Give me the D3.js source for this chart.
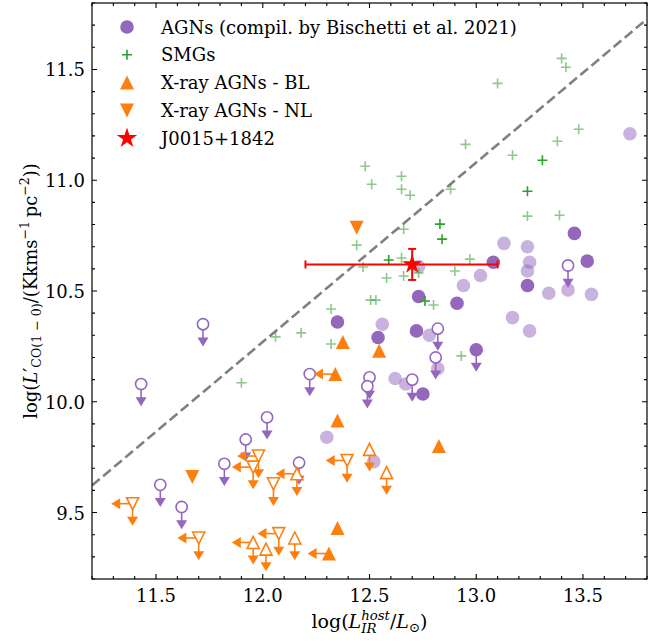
<!DOCTYPE html>
<html>
<head>
<meta charset="utf-8">
<script src="https://cdn.jsdelivr.net/npm/d3@7"></script>
<style>
  body { margin: 0; background: #fff; }
  text { font-family: "DejaVu Serif", serif; fill: #000; }
</style>
</head>
<body>
<div id="chart"></div>
<script>
// data: [log L_IR, log L'CO]
const agnDetected = [[12.35,10.36],[13.46,10.76],[13.52,10.635],[13.08,10.63],[13.24,10.525],
  [12.73,10.475],[12.91,10.445],[12.54,10.29],[12.72,10.32],[12.75,10.035]]
const agnFaint = [[13.72,11.21],[13.13,10.715],[13.24,10.70],[13.25,10.63],[12.73,10.61],[13.24,10.59],
  [13.02,10.57],[12.94,10.525],[13.34,10.49],[13.43,10.505],[13.54,10.485],[13.17,10.38],[12.56,10.35],
  [13.25,10.32],[12.78,10.30],[12.82,10.15],[12.62,10.105],[12.67,10.08],[12.30,9.84],[12.52,9.73]]
const agnUpper = [[11.72,10.35],[13.43,10.615],[12.82,10.33],[12.81,10.20],[12.50,10.11],[12.49,10.07],
  [12.70,10.10],[11.43,10.08],[12.22,10.125],[12.02,9.93],[11.92,9.83],[11.82,9.72],[12.17,9.725],
  [11.52,9.625],[11.62,9.525]]
const agnUpperFilled = [[13.0,10.235]]

const smgFaint = [[13.40,11.55],[13.42,11.51],[13.10,11.437],[13.48,11.23],[13.38,11.176],[12.95,11.162],
  [13.17,11.113],[12.48,11.063],[12.65,11.018],[12.51,10.982],[12.65,10.959],[12.69,10.932],[12.88,10.959],
  [13.24,10.838],[13.39,10.842],[12.66,10.779],[12.44,10.707],[12.47,10.608],[12.97,10.644],[12.65,10.649],
  [12.58,10.559],[12.66,10.568],[12.73,10.581],[12.90,10.59],[12.32,10.419],[12.505,10.459],[12.53,10.459],
  [12.80,10.437],[12.18,10.311],[12.06,10.293],[12.32,10.261],[12.93,10.207],[11.90,10.086]]
const smgBright = [[13.31,11.09],[13.24,10.95],[12.83,10.802],[12.84,10.734],[12.59,10.64],[12.76,10.455]]

const blDetected = [[12.375,10.27],[12.545,10.23],[12.35,9.915],[12.825,9.80],[12.35,9.43]]
const blLeftLimit = [[12.34,10.125],[12.31,9.315]]
const blUpper = [[12.50,9.785],[12.58,9.68],[12.15,9.385],[12.015,9.335]]
const blUpperLeft = [[12.16,9.675],[11.955,9.365]]

const nlDetected = [[12.44,10.785],[11.67,9.66]]
const nlUpperLeft = [[11.98,9.755],[11.955,9.705],[12.395,9.735],[11.39,9.54],[11.70,9.385],[12.075,9.405]]
const nlUpper = [[12.05,9.63]]

const target = [12.70, 10.62]
const targetXerr = [0.50, 0.40]
const targetYerr = 0.07

const limitLength = 0.1
const lineSlope = 0.81
const lineIntercept = 0.55

const xTicks = [11.5, 12.0, 12.5, 13.0, 13.5]
const yTicks = [9.5, 10.0, 10.5, 11.0, 11.5]

const legendLabels = ['AGNs (compil. by Bischetti et al. 2021)', 'SMGs', 'X-ray AGNs - BL',
  'X-ray AGNs - NL', 'J0015+1842']

//dimensions
const width = 666, height = 642
const margin = {top: 3, right: 19, bottom: 63, left: 92}
const purple = '#9467bd', green = '#2ca02c', orange = '#ff7f0e'

const svg = d3.select('#chart').append('svg')
  .attr('width', width).attr('height', height)

const x = d3.scaleLinear().domain([11.2, 13.8]).range([margin.left, width - margin.right])
const y = d3.scaleLinear().domain([9.2, 11.8]).range([height - margin.bottom, margin.top])

const plot = svg.append('g')
svg.append('clipPath').attr('id', 'clip').append('rect')
  .attr('x', margin.left).attr('y', margin.top)
  .attr('width', width - margin.left - margin.right)
  .attr('height', height - margin.top - margin.bottom)
plot.attr('clip-path', 'url(#clip)')

//symbols
const tri = (s, up) => up ? `M0,${-s}L${-s},${s}L${s},${s}Z` : `M0,${s}L${-s},${-s}L${s},${-s}Z`
const plus = s => `M${-s},0H${s}M0,${-s}V${s}`

function downArrow(g, d, color) {
  const px = x(d[0]), py = y(d[1]), ty = y(d[1] - limitLength)
  g.append('line').attr('x1', px).attr('x2', px).attr('y1', py).attr('y2', ty - 6)
    .attr('stroke', color).attr('stroke-width', 1.6)
  g.append('path').attr('d', `M${px},${ty}L${px - 5.5},${ty - 9}L${px + 5.5},${ty - 9}Z`).attr('fill', color)
}
function leftArrow(g, d, color) {
  const px = x(d[0]), py = y(d[1]), tx = x(d[0] - limitLength)
  g.append('line').attr('x1', px).attr('x2', tx + 6).attr('y1', py).attr('y2', py)
    .attr('stroke', color).attr('stroke-width', 1.6)
  g.append('path').attr('d', `M${tx},${py}L${tx + 9},${py - 5.5}L${tx + 9},${py + 5.5}Z`).attr('fill', color)
}

//dashed relation
plot.append('line')
  .attr('x1', x(11.2)).attr('y1', y(lineSlope * 11.2 + lineIntercept))
  .attr('x2', x(13.8)).attr('y2', y(lineSlope * 13.8 + lineIntercept))
  .attr('stroke', '#808080').attr('stroke-width', 2.6).attr('stroke-dasharray', '10,4.5')

//agn compilation
plot.append('g').selectAll('circle').data(agnFaint).join('circle')
  .attr('cx', d => x(d[0])).attr('cy', d => y(d[1])).attr('r', 6.8)
  .attr('fill', purple).attr('opacity', 0.5)
plot.append('g').selectAll('circle').data(agnDetected).join('circle')
  .attr('cx', d => x(d[0])).attr('cy', d => y(d[1])).attr('r', 6.8).attr('fill', purple)

const lim = plot.append('g')
agnUpper.forEach(d => downArrow(lim, d, purple))
agnUpperFilled.forEach(d => downArrow(lim, d, purple))
lim.selectAll('circle.open').data(agnUpper).join('circle')
  .attr('cx', d => x(d[0])).attr('cy', d => y(d[1])).attr('r', 5.6)
  .attr('fill', '#fff').attr('stroke', purple).attr('stroke-width', 1.6)
lim.selectAll('circle.full').data(agnUpperFilled).join('circle')
  .attr('cx', d => x(d[0])).attr('cy', d => y(d[1])).attr('r', 6.8).attr('fill', purple)

//smgs
plot.append('g').selectAll('path').data(smgFaint).join('path')
  .attr('transform', d => `translate(${x(d[0])},${y(d[1])})`).attr('d', plus(5))
  .attr('stroke', green).attr('stroke-width', 1.6).attr('opacity', 0.55)
plot.append('g').selectAll('path').data(smgBright).join('path')
  .attr('transform', d => `translate(${x(d[0])},${y(d[1])})`).attr('d', plus(5))
  .attr('stroke', green).attr('stroke-width', 1.6)

//x-ray agns
const xr = plot.append('g')
blLeftLimit.forEach(d => leftArrow(xr, d, orange))
blUpper.forEach(d => downArrow(xr, d, orange))
blUpperLeft.forEach(d => { downArrow(xr, d, orange); leftArrow(xr, d, orange) })
nlUpperLeft.forEach(d => { downArrow(xr, d, orange); leftArrow(xr, d, orange) })
nlUpper.forEach(d => downArrow(xr, d, orange))

const drawTri = (data, up, open) => xr.append('g').selectAll('path').data(data).join('path')
  .attr('transform', d => `translate(${x(d[0])},${y(d[1])})`)
  .attr('d', tri(open ? 6 : 7, up))
  .attr('fill', open ? '#fff' : orange)
  .attr('stroke', open ? orange : 'none').attr('stroke-width', 1.6)
drawTri(blDetected, true, false)
drawTri(blLeftLimit, true, false)
drawTri(blUpper, true, true)
drawTri(blUpperLeft, true, true)
drawTri(nlDetected, false, false)
drawTri(nlUpperLeft, false, true)
drawTri(nlUpper, false, true)

//target
const tg = plot.append('g')
tg.append('line').attr('x1', x(target[0] - targetXerr[0])).attr('x2', x(target[0] + targetXerr[1]))
  .attr('y1', y(target[1])).attr('y2', y(target[1])).attr('stroke', 'red').attr('stroke-width', 2)
tg.append('line').attr('x1', x(target[0])).attr('x2', x(target[0]))
  .attr('y1', y(target[1] - targetYerr)).attr('y2', y(target[1] + targetYerr))
  .attr('stroke', 'red').attr('stroke-width', 2)
const caps = [[target[0] - targetXerr[0], target[1], 'v'], [target[0] + targetXerr[1], target[1], 'v'],
  [target[0], target[1] - targetYerr, 'h'], [target[0], target[1] + targetYerr, 'h']]
tg.selectAll('path.cap').data(caps).join('path')
  .attr('d', d => d[2] === 'v' ? `M${x(d[0])},${y(d[1]) - 4}V${y(d[1]) + 4}` : `M${x(d[0]) - 4},${y(d[1])}H${x(d[0]) + 4}`)
  .attr('stroke', 'red').attr('stroke-width', 2)
tg.append('path').attr('transform', `translate(${x(target[0])},${y(target[1])})`)
  .attr('d', d3.symbol(d3.symbolStar, 120)()).attr('fill', 'red')

//axes frame & ticks
const axes = svg.append('g')
const x0 = margin.left, x1 = width - margin.right, y0 = height - margin.bottom, y1 = margin.top
const minorX = d3.range(112, 139).map(d => d / 10).filter(v => !xTicks.some(t => Math.abs(t - v) < 1e-6))
const minorY = d3.range(92, 119).map(d => d / 10).filter(v => !yTicks.some(t => Math.abs(t - v) < 1e-6))
const tick = (vals, len) => {
  vals.forEach(v => {
    const px = x(v)
    axes.append('path').attr('d', `M${px},${y0}V${y0 - len}M${px},${y1}V${y1 + len}`)
  })
}
const tickY = (vals, len) => {
  vals.forEach(v => {
    const py = y(v)
    axes.append('path').attr('d', `M${x0},${py}H${x0 + len}M${x1},${py}H${x1 - len}`)
  })
}
tick(xTicks, 5); tick(minorX, 3)
tickY(yTicks, 5); tickY(minorY, 3)
axes.selectAll('path').attr('stroke', '#000').attr('stroke-width', 1.1).attr('fill', 'none')
axes.append('rect').attr('x', x0).attr('y', y1).attr('width', x1 - x0).attr('height', y0 - y1)
  .attr('fill', 'none').attr('stroke', '#000').attr('stroke-width', 1.2)

axes.selectAll('text.xt').data(xTicks).join('text')
  .attr('x', d => x(d)).attr('y', y0 + 23).attr('text-anchor', 'middle')
  .style('font-size', '18px').text(d => d.toFixed(1))
axes.selectAll('text.yt').data(yTicks).join('text')
  .attr('x', x0 - 7).attr('y', d => y(d) + 7).attr('text-anchor', 'end')
  .style('font-size', '18px').text(d => d.toFixed(1))

//math labels
function drawMath(g, parts, fs) {
  let cx = 0, pending = 0
  parts.forEach(p => {
    const t = g.append('text').attr('x', cx).attr('y', p.dy || 0)
      .style('font-size', (fs * (p.s || 1)) + 'px')
      .style('font-style', p.it ? 'italic' : 'normal').text(p.t)
    const w = t.node().getComputedTextLength()
    if (p.hold) { pending = w } else { cx += Math.max(w, pending); pending = 0 }
  })
  g.selectAll('text').attr('x', function() { return +d3.select(this).attr('x') - cx / 2 })
}
const xl = svg.append('g').attr('transform', `translate(${(x0 + x1) / 2},628)`)
drawMath(xl, [
  {t: 'log('}, {t: 'L', it: true},
  {t: 'IR', it: true, s: 0.7, dy: 5, hold: true}, {t: 'host', it: true, s: 0.7, dy: -8},
  {t: '/'}, {t: 'L', it: true}, {t: '⊙', s: 0.7, dy: 4}, {t: ')'}
], 19)
const yl = svg.append('g').attr('transform', `translate(37,${(y0 + y1) / 2}) rotate(-90)`)
drawMath(yl, [
  {t: 'log('}, {t: 'L', it: true}, {t: '′'},
  {t: 'CO(1 − 0)', s: 0.7, dy: 4}, {t: '/(Kkms'}, {t: '−1', s: 0.7, dy: -8},
  {t: '\u2009pc'}, {t: '−2', s: 0.7, dy: -8}, {t: '))'}
], 18)

//legend
const lg = svg.append('g')
const rowY = i => 27 + i * 27.8
const lx = 127
lg.append('circle').attr('cx', lx).attr('cy', rowY(0)).attr('r', 6.8).attr('fill', purple)
lg.append('path').attr('transform', `translate(${lx},${rowY(1)})`).attr('d', plus(5))
  .attr('stroke', green).attr('stroke-width', 1.6)
lg.append('path').attr('transform', `translate(${lx},${rowY(2)})`).attr('d', tri(7, true)).attr('fill', orange)
lg.append('path').attr('transform', `translate(${lx},${rowY(3)})`).attr('d', tri(7, false)).attr('fill', orange)
lg.append('path').attr('transform', `translate(${lx},${rowY(4)})`)
  .attr('d', d3.symbol(d3.symbolStar, 130)()).attr('fill', 'red')
lg.selectAll('text').data(legendLabels).join('text')
  .attr('x', 161).attr('y', (d, i) => rowY(i) + 6.5)
  .style('font-size', '18px').text(d => d)
</script>
</body>
</html>
